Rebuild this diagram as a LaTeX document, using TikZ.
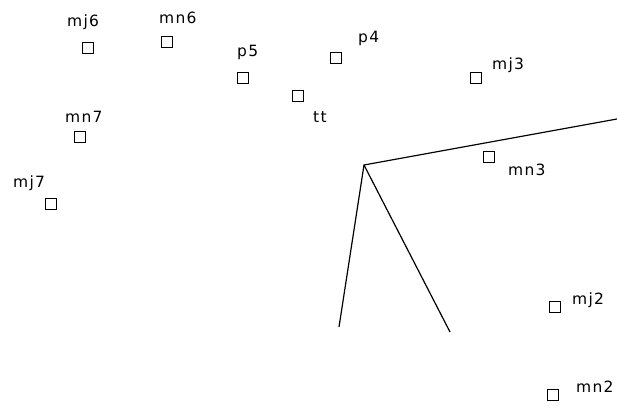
\documentclass[tikz,border=0pt]{standalone}
\usepackage{fontspec}
\setmainfont{DejaVu Sans}[LetterSpace=8]
\begin{document}
\begin{tikzpicture}[x=1pt,y=-1pt,
  pt/.style={draw=black,line width=1.3pt,minimum size=11.5pt,inner sep=0pt,fill=white},
  lbl/.style={anchor=base west,inner sep=0pt,font=\fontsize{15.5}{18}\selectfont},
  seg/.style={draw=black,line width=1.2pt}]
\useasboundingbox (0,0) rectangle (617,406);
% squares
\node[pt] (mj6) at (88,48) {};
\node[pt] (mn6) at (167,42) {};
\node[pt] (p5) at (243,78) {};
\node[pt] (tt) at (298,96) {};
\node[pt] (mn7) at (80,137) {};
\node[pt] (mj7) at (51,204) {};
\node[pt] (p4) at (336,58) {};
\node[pt] (mj3) at (476,78) {};
\node[pt] (mn3) at (489,157) {};
\node[pt] (mj2) at (555,307) {};
\node[pt] (mn2) at (553,395) {};
% labels
\node[lbl] (lmj6) at (67,27) {mj6};
\node[lbl] (lmn6) at (159,24) {mn6};
\node[lbl] (lp5) at (237,57) {p5};
\node[lbl] (ltt) at (313,123) {tt};
\node[lbl] (lmn7) at (65,123) {mn7};
\node[lbl] (lmj7) at (13,187) {mj7};
\node[lbl] (lp4) at (358,43) {p4};
\node[lbl] (lmj3) at (492,70) {mj3};
\node[lbl] (lmn3) at (508,175) {mn3};
\node[lbl] (lmj2) at (572,304) {mj2};
\node[lbl] (lmn2) at (576,392) {mn2};
% lines
\coordinate (v) at (364,165);
\coordinate (r) at (617,119);
\coordinate (a) at (339,327);
\coordinate (b) at (450,332);
\draw[seg] (r) -- (v) -- (a);
\draw[seg] (v) -- (b);
\end{tikzpicture}
\end{document}
